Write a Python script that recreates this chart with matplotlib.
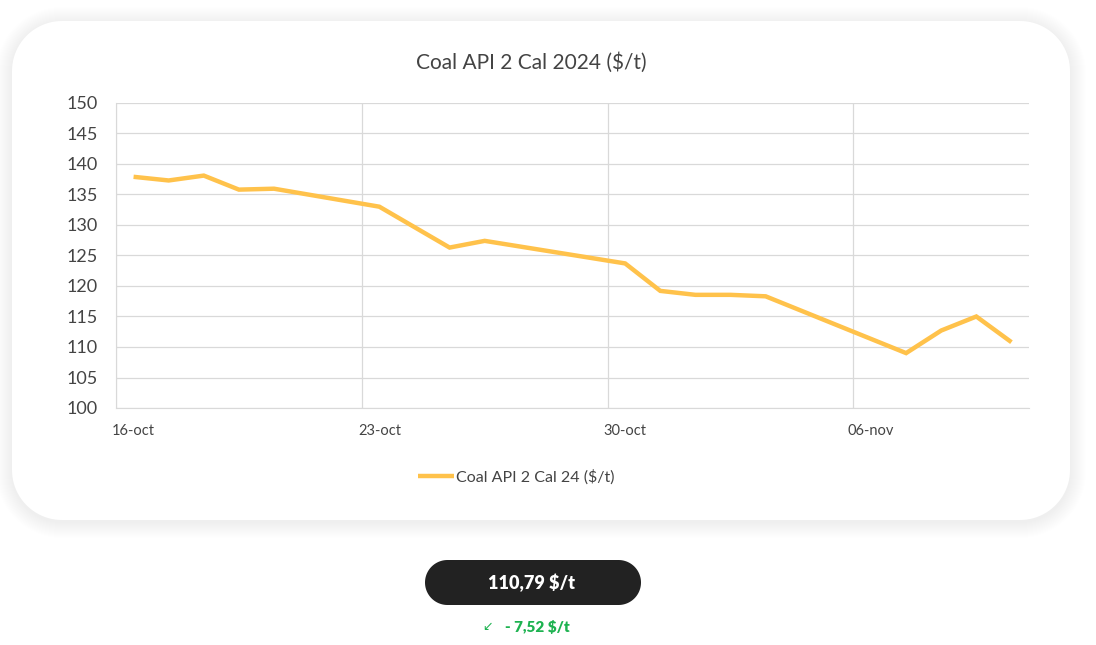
import numpy as np
import pandas as pd
import matplotlib
matplotlib.use("Agg")
import matplotlib.pyplot as plt
import matplotlib.dates as mdates
from matplotlib.patches import Polygon

# data
dates = ["2023-10-16", "2023-10-17", "2023-10-18", "2023-10-19", "2023-10-20",
         "2023-10-23", "2023-10-25", "2023-10-26", "2023-10-30", "2023-10-31",
         "2023-11-01", "2023-11-02", "2023-11-03", "2023-11-07", "2023-11-08",
         "2023-11-09", "2023-11-10"]
prices = [137.9, 137.3, 138.1, 135.8, 135.95,
          133.0, 126.3, 127.4, 123.7, 119.2,
          118.55, 118.55, 118.31, 109.0, 112.7,
          115.0, 110.79]
tick_dates = ["2023-10-16", "2023-10-23", "2023-10-30", "2023-11-06"]
tick_labels = ["16-oct", "23-oct", "30-oct", "06-nov"]
x_start, x_end = "2023-10-16", "2023-11-11"

title = "Coal API 2 Cal 2024 ($/t)"
series_name = "Coal API 2 Cal 24 ($/t)"
last_price = "110,79 $/t"
change = "- 7,52 $/t"

LINE_COL = "#FFC24B"
GRID_COL = "#D9D9D9"
TEXT_COL = "#444444"
GREEN = "#1DB250"

plt.rcParams["font.family"] = ["Lato", "DejaVu Sans"]

W, H = 1096, 645
fig = plt.figure(figsize=(W / 100, H / 100), dpi=100)
fig.patch.set_facecolor("white")

# background layer in pixel coordinates (card, shadow, pill)
bg = fig.add_axes([0, 0, 1, 1], zorder=0)
bg.set_xlim(0, W)
bg.set_ylim(H, 0)
bg.axis("off")


def rbox(x0, y0, x1, y1, r, **kw):
    # rounded rectangle with true circular corners
    r = min(r, (x1 - x0) / 2, (y1 - y0) / 2)
    t = np.linspace(0, np.pi / 2, 24)
    pts = []
    for cx, cy, a0 in [(x1 - r, y1 - r, 0), (x0 + r, y1 - r, np.pi / 2),
                       (x0 + r, y0 + r, np.pi), (x1 - r, y0 + r, 1.5 * np.pi)]:
        pts += list(zip(cx + r * np.cos(t + a0), cy + r * np.sin(t + a0)))
    bg.add_patch(Polygon(pts, closed=True, **kw))


cx0, cy0, cx1, cy1 = 12, 21, 1070, 520
for g in range(16, 0, -1):
    rbox(cx0 - g, cy0 - g + 2, cx1 + g, cy1 + g + 2, 50 + g,
         facecolor="black", edgecolor="none", alpha=0.005)
rbox(cx0, cy0, cx1, cy1, 50, facecolor="white", edgecolor="none")
rbox(425, 560, 641, 605, 22.5, facecolor="#222222", edgecolor="none")

ax = fig.add_axes([116 / W, 1 - 408 / H, (1029 - 116) / W, (408 - 103) / H], zorder=2)
ax.set_facecolor("none")

xd = mdates.date2num(pd.to_datetime(dates)) + 0.5
ax.plot(xd, prices, color=LINE_COL, lw=3.2, solid_joinstyle="miter",
        solid_capstyle="butt", label=series_name, zorder=3)

ax.set_xlim(mdates.date2num(pd.to_datetime(x_start)), mdates.date2num(pd.to_datetime(x_end)))
ax.set_ylim(100, 150)
ax.set_yticks(np.arange(100, 151, 5))
ax.yaxis.grid(True, color=GRID_COL, lw=0.9)

tnum = mdates.date2num(pd.to_datetime(tick_dates))
ax.set_xticks(tnum, minor=True)
ax.set_xticks(tnum + 0.5)
ax.set_xticklabels(tick_labels)
ax.xaxis.grid(True, which="minor", color=GRID_COL, lw=0.9)
ax.tick_params(axis="x", which="both", length=0, pad=11.5, labelsize=10.5, labelcolor=TEXT_COL)
ax.tick_params(axis="y", length=0, pad=13, labelsize=13, labelcolor=TEXT_COL)
for s in ["top", "right"]:
    ax.spines[s].set_visible(False)
ax.spines["left"].set_color(GRID_COL)
ax.spines["bottom"].set_color(GRID_COL)

fig.text(531 / W, 1 - 63 / H, title, ha="center", va="center", fontsize=15, color=TEXT_COL)

fig.legend(loc="center", bbox_to_anchor=(516 / W, 1 - 477 / H), frameon=False,
           fontsize=11.5, handlelength=2.3, handletextpad=0.1, labelcolor=TEXT_COL)

fig.text(532 / W, 1 - 583 / H, last_price, ha="center", va="center", fontsize=13,
         fontweight="heavy", color="white", zorder=3)
fig.text(488 / W, 1 - 627 / H, "\u2199", ha="center", va="center", fontsize=9,
         color=GREEN, family=["DejaVu Sans"])
fig.text(537 / W, 1 - 627 / H, change, ha="center", va="center", fontsize=11,
         fontweight="heavy", color=GREEN)

fig.savefig("out.png", dpi=100, facecolor="white")
